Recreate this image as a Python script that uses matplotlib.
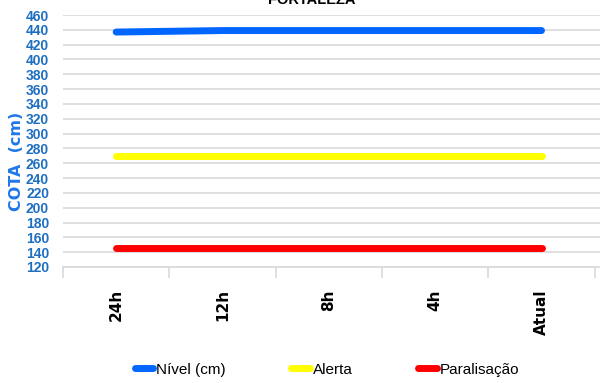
import matplotlib.pyplot as plt
import numpy as np

# === Data ===
categorias = ["24h", "12h", "8h", "4h", "Atual"]
nivel = [437, 439, 439, 439, 439]
alerta = [270, 270, 270, 270, 270]
paralisacao = [145, 145, 145, 145, 145]
y_ticks = list(range(120, 461, 20))

azul_eixo = "#1f6fc0"

fig = plt.figure(figsize=(6.0, 3.83), dpi=100)
ax = fig.add_axes([63 / 600, 1 - 267 / 383, 1 - 63 / 600, 252 / 383])

x = np.arange(len(categorias))
ax.plot(x, nivel, color="#0066ff", linewidth=5, solid_capstyle="round", label="Nível (cm)", zorder=3)
ax.plot(x, alerta, color="#ffff00", linewidth=5, solid_capstyle="round", label="Alerta", zorder=3)
ax.plot(x, paralisacao, color="#ff0000", linewidth=5, solid_capstyle="round", label="Paralisação", zorder=3)

ax.set_ylim(120, 460)
ax.set_xlim(-0.49, 4.55)
ax.set_yticks(y_ticks)
ax.set_yticklabels([str(v) for v in y_ticks], family="Liberation Sans", fontweight="bold",
                   fontsize=10, color=azul_eixo)
ax.yaxis.grid(True, color="#d9d9d9", linewidth=1.2)
ax.set_axisbelow(True)

ax.set_xticks(x)
ax.set_xticklabels(categorias, rotation=90, fontweight="bold", fontsize=11, color="black")
ax.set_xticks(np.arange(-0.5, 5, 1), minor=True)
ax.tick_params(axis="x", which="major", length=0, pad=16)
ax.tick_params(axis="x", which="minor", length=8, color="#d9d9d9", width=1.2)
ax.tick_params(axis="y", length=0, pad=10)

for side in ["top", "right", "left"]:
    ax.spines[side].set_visible(False)
ax.spines["bottom"].set_color("#d9d9d9")
ax.spines["bottom"].set_linewidth(1.2)

ax.set_ylabel("COTA  (cm)", color="#1f78e8", fontweight="bold", fontsize=11.5)
ax.yaxis.set_label_coords(-0.072, 0.42)

fig.text(0.52, 1.0, "FORTALEZA", ha="center", va="center", fontweight="bold",
         fontsize=10.5, family="Liberation Sans", color="black")

leg = fig.legend(loc="center", bbox_to_anchor=(0.545, 0.035), ncol=3, frameon=False,
                 prop={"family": "Liberation Sans", "size": 11}, handlelength=1.2,
                 handletextpad=0.2, columnspacing=4.3)

fig.savefig("out.png", dpi=100)
